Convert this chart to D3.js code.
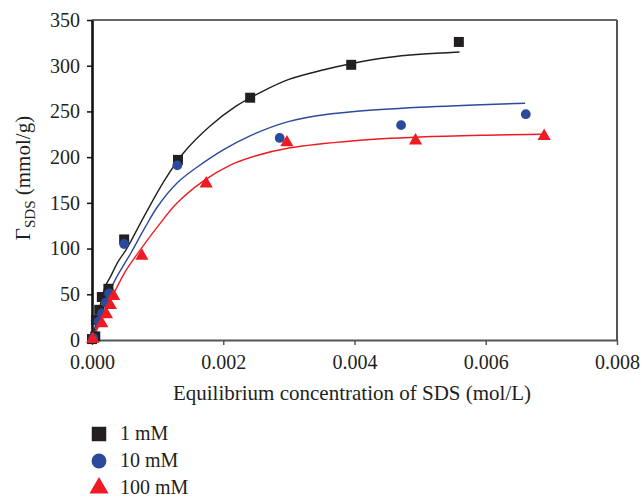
<!DOCTYPE html>
<html>
<head>
<meta charset="utf-8">
<script src="https://cdn.jsdelivr.net/npm/d3@7"></script>
<style>
  html, body { margin: 0; padding: 0; background: #fff; }
  svg { display: block; }
  text { font-family: "Liberation Serif", "DejaVu Serif", serif; fill: #231f20; }
</style>
</head>
<body>
<svg id="chart" width="641" height="497"></svg>
<script>
// Measured adsorption of SDS (concentration in mol/L, amount in mmol/g)
const seriesNames = ["1 mM", "10 mM", "100 mM"];
const seriesColors = ["#231f20", "#2b4a9c", "#ed1c24"];

const conc1 = [0.00000, 0.00005, 0.00006, 0.00011, 0.00015, 0.00025, 0.00049, 0.00131, 0.00241, 0.00395, 0.00559];
const gamma1 = [1, 4, 22, 33, 47, 56, 110, 197, 265, 301, 326];

const conc10 = [0.00002, 0.00010, 0.00015, 0.00021, 0.00026, 0.00049, 0.00130, 0.00286, 0.00471, 0.00661];
const gamma10 = [2, 20, 29, 41, 51, 105, 191, 221, 235, 247];

const conc100 = [0.00001, 0.00015, 0.00022, 0.00028, 0.00033, 0.00076, 0.00174, 0.00297, 0.00493, 0.00689];
const gamma100 = [1, 18, 28, 38, 48, 92, 171, 216, 218, 223];

// Fitted isotherm curves
const fitConc1 = [0, 0.0001, 0.0002, 0.00028, 0.0004, 0.00053, 0.0008, 0.0011, 0.0014, 0.0018, 0.0022, 0.0026, 0.003, 0.0035, 0.004, 0.0045, 0.005, 0.0056];
const fitGamma1 = [0, 30, 58, 69, 86, 100, 136, 174, 205, 234, 256, 272, 285, 295, 303, 309, 312.5, 315];

const fitConc10 = [0, 0.0001, 0.0002, 0.0003, 0.0004, 0.0005, 0.0006, 0.0008, 0.001, 0.0013, 0.0016, 0.002, 0.0024, 0.0029, 0.0034, 0.004, 0.005, 0.0066];
const fitGamma10 = [0, 20, 40, 58, 72, 84, 96, 122, 146, 172, 189, 208, 223, 237, 245, 250, 254.5, 259];

const fitConc100 = [0, 0.0001, 0.0002, 0.0003, 0.0005, 0.0007, 0.001, 0.0013, 0.0017, 0.0021, 0.0025, 0.003, 0.004, 0.005, 0.006, 0.0069];
const fitGamma100 = [0, 15, 31, 46, 74, 95, 124, 150, 174, 191, 201.5, 210, 218, 222, 224, 225];

const xTicks = [0, 0.002, 0.004, 0.006, 0.008];
const yTicks = [0, 50, 100, 150, 200, 250, 300, 350];

const svg = d3.select("#chart");
const m = { left: 92, right: 617, top: 20, bottom: 340 };

const x = d3.scaleLinear().domain([0, 0.008]).range([m.left, m.right]);
const y = d3.scaleLinear().domain([0, 350]).range([m.bottom, m.top]);

// Frame: top and right borders
svg.append("line").attr("x1", m.left).attr("x2", m.right).attr("y1", m.top).attr("y2", m.top)
  .attr("stroke", "#333").attr("stroke-width", 1.6);
svg.append("line").attr("x1", m.right).attr("x2", m.right).attr("y1", m.top).attr("y2", m.bottom)
  .attr("stroke", "#555").attr("stroke-width", 2);

// Bottom axis
const xAxis = svg.append("g").attr("transform", `translate(0,${m.bottom})`)
  .call(d3.axisBottom(x).tickValues(xTicks).tickFormat(d3.format(".3f")).tickSize(5).tickSizeOuter(0).tickPadding(10));
xAxis.select(".domain").attr("stroke", "#555").attr("stroke-width", 2);
xAxis.selectAll(".tick line").attr("stroke", "#555").attr("stroke-width", 1.5);
xAxis.selectAll(".tick text").attr("font-size", 20).attr("font-family", "Liberation Serif").attr("fill", "#231f20");

// Left axis
const yAxis = svg.append("g").attr("transform", `translate(${m.left},0)`)
  .call(d3.axisLeft(y).tickValues(yTicks).tickSize(5).tickSizeOuter(0).tickPadding(7));
yAxis.select(".domain").attr("stroke", "#111").attr("stroke-width", 2.6);
yAxis.selectAll(".tick line").attr("stroke", "#111").attr("stroke-width", 1.5);
yAxis.selectAll(".tick text").attr("font-size", 20).attr("font-family", "Liberation Serif").attr("fill", "#231f20");

// Axis titles
svg.append("text").attr("x", 352).attr("y", 400).attr("text-anchor", "middle")
  .attr("font-size", 21).text("Equilibrium concentration of SDS (mol/L)");

const yt = svg.append("text").attr("transform", "translate(30,178) rotate(-90)")
  .attr("text-anchor", "middle").attr("font-size", 21);
yt.append("tspan").text("Γ");
yt.append("tspan").attr("font-size", 15).attr("dy", 5).text("SDS");
yt.append("tspan").attr("dy", -5).text(" (mmol/g)");

// Fitted curves
const line = d3.line().x(d => x(d[0])).y(d => y(d[1])).curve(d3.curveCatmullRom.alpha(0.5));
const fits = [
  d3.zip(fitConc1, fitGamma1),
  d3.zip(fitConc10, fitGamma10),
  d3.zip(fitConc100, fitGamma100)
];
fits.forEach((pts, i) => {
  svg.append("path").datum(pts).attr("d", line)
    .attr("fill", "none").attr("stroke", seriesColors[i]).attr("stroke-width", 1.4);
});

// Markers
const sq = d3.symbol().type(d3.symbolSquare).size(100);
const ci = d3.symbol().type(d3.symbolCircle).size(75);
const tr = d3.symbol().type(d3.symbolTriangle).size(75);
const symbols = [sq, ci, tr];
const points = [
  d3.zip(conc1, gamma1),
  d3.zip(conc10, gamma10),
  d3.zip(conc100, gamma100)
];
points.forEach((pts, i) => {
  svg.append("g").selectAll("path").data(pts).join("path")
    .attr("transform", d => `translate(${x(d[0])},${y(d[1])})`)
    .attr("d", symbols[i]())
    .attr("fill", seriesColors[i]);
});

// Legend
const legendSymbols = [
  d3.symbol().type(d3.symbolSquare).size(210),
  d3.symbol().type(d3.symbolCircle).size(175),
  d3.symbol().type(d3.symbolTriangle).size(160)
];
seriesNames.forEach((name, i) => {
  const ly = 434 + i * 27;
  svg.append("path").attr("transform", `translate(99,${ly})`)
    .attr("d", legendSymbols[i]()).attr("fill", seriesColors[i]);
  svg.append("text").attr("x", 120).attr("y", ly + 6).attr("font-size", 20).text(name);
});
</script>
</body>
</html>
